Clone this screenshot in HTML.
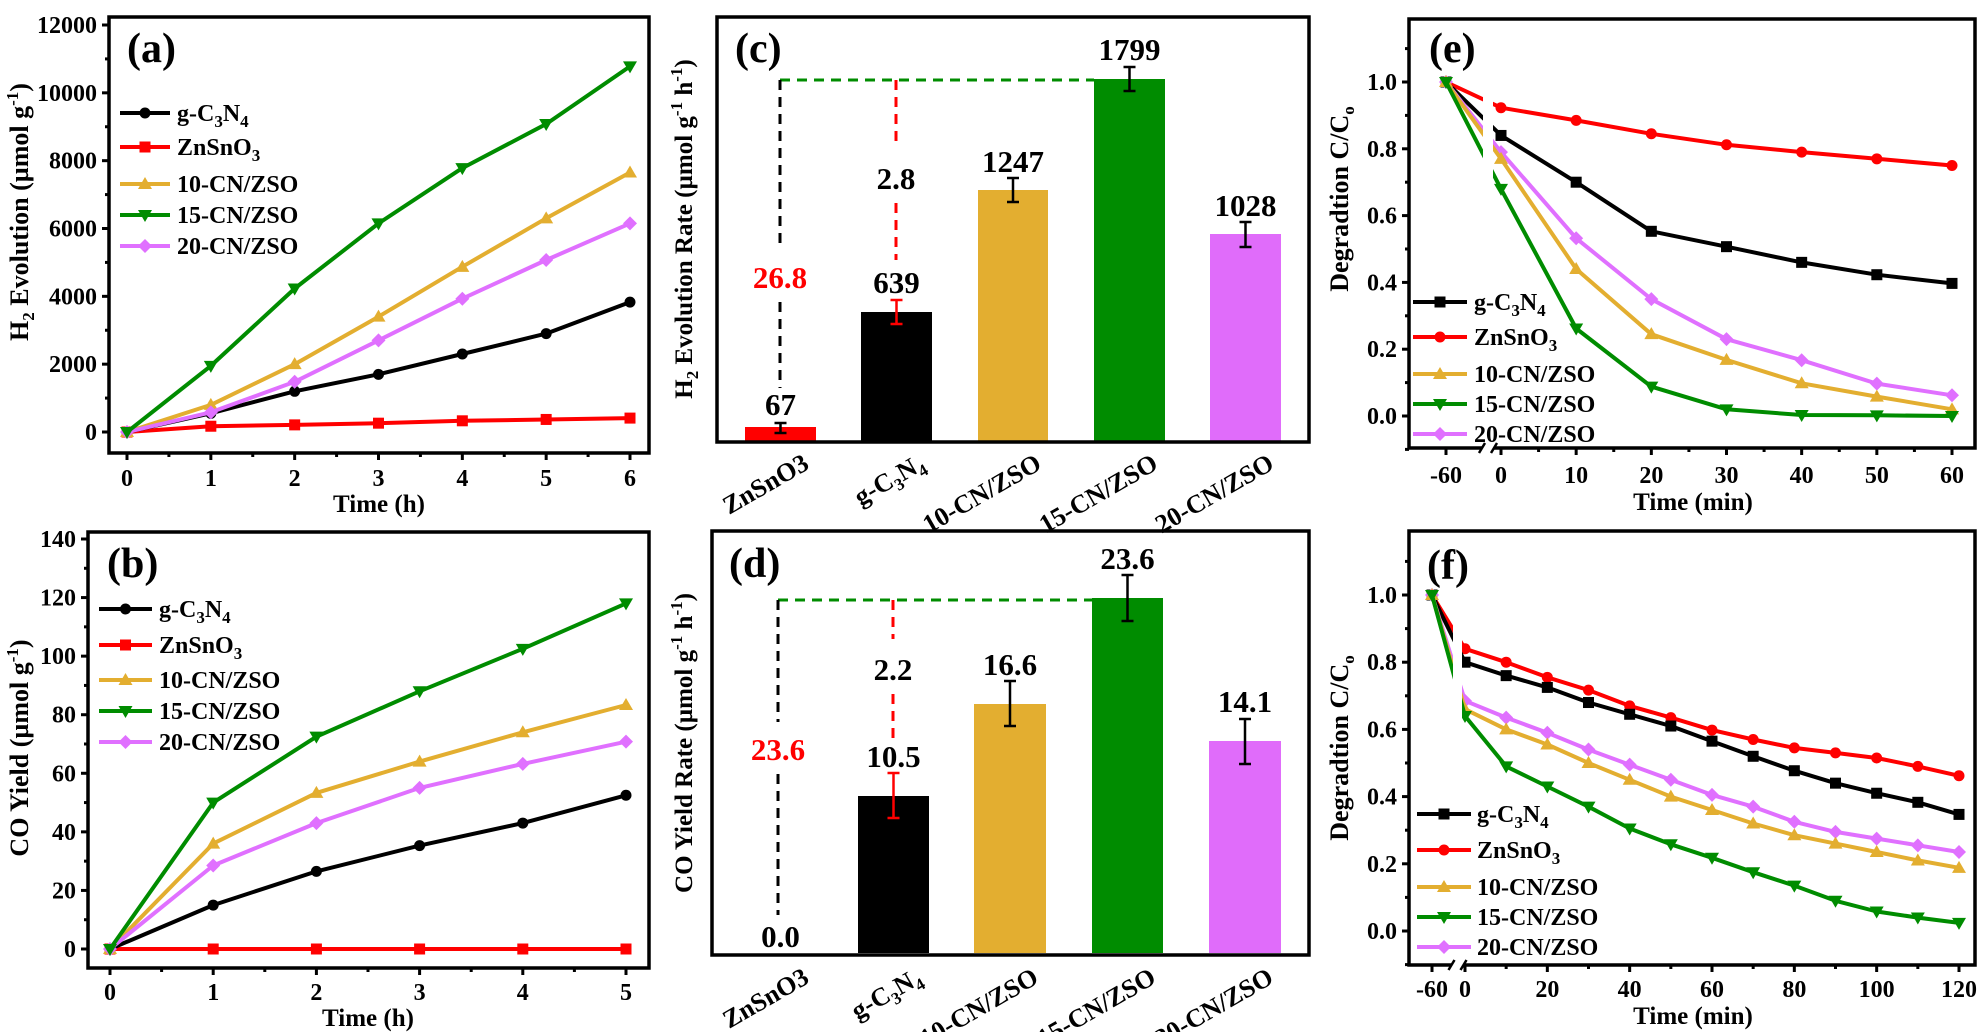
<!DOCTYPE html>
<html><head><meta charset="utf-8">
<style>
html,body{margin:0;padding:0;background:#fff;}
svg{display:block;}
text{font-family:"Liberation Serif",serif;font-weight:bold;fill:#000;}
</style></head>
<body>
<svg id="s" width="1977" height="1032" viewBox="0 0 1977 1032" xmlns="http://www.w3.org/2000/svg"></svg>
<script>
var S=document.getElementById('s');var out='';
var COL={g:'#000000',z:'#ff0000',a:'#e3ae30',b:'#008c00',c:'#e070ff'};
function marker(t,x,y,c){var r=5.5;
 if(t=='o')return '<circle cx="'+x+'" cy="'+y+'" r="'+r+'" fill="'+c+'"/>';
 if(t=='s')return '<rect x="'+(x-r)+'" y="'+(y-r)+'" width="'+(2*r)+'" height="'+(2*r)+'" fill="'+c+'"/>';
 if(t=='^')return '<polygon points="'+x+','+(y-7)+' '+(x+7)+','+(y+5)+' '+(x-7)+','+(y+5)+'" fill="'+c+'"/>';
 if(t=='v')return '<polygon points="'+x+','+(y+7)+' '+(x+7)+','+(y-5)+' '+(x-7)+','+(y-5)+'" fill="'+c+'"/>';
 if(t=='d')return '<polygon points="'+x+','+(y-7)+' '+(x+7)+','+y+' '+x+','+(y+7)+' '+(x-7)+','+y+'" fill="'+c+'"/>';}
function series(xs,ys,c,m){var p=xs.map(function(x,i){return x.toFixed(1)+','+ys[i].toFixed(1)}).join(' ');
 var s='<polyline points="'+p+'" fill="none" stroke="'+c+'" stroke-width="4" stroke-linejoin="round"/>';
 xs.forEach(function(x,i){s+=marker(m,x,ys[i],c)});return s;}
function frame(l,t,r,b){return '<rect x="'+l+'" y="'+t+'" width="'+(r-l)+'" height="'+(b-t)+'" fill="none" stroke="#000" stroke-width="3.5"/>';}
function txt(x,y,s,size,anchor,extra){return '<text x="'+x+'" y="'+y+'" font-size="'+size+'" text-anchor="'+(anchor||'start')+'" '+(extra||'')+'>'+s+'</text>';}
var GCN='g-C<tspan dy="6" font-size="17">3</tspan><tspan dy="-6">N</tspan><tspan dy="6" font-size="17">4</tspan>';
var ZSO='ZnSnO<tspan dy="6" font-size="17">3</tspan>';
function legend(x1,x2,tx,rows,marks){var names=[GCN,ZSO,'10-CN/ZSO','15-CN/ZSO','20-CN/ZSO'];var cols=[COL.g,COL.z,COL.a,COL.b,COL.c];var s='';
 rows.forEach(function(y,i){s+='<line x1="'+x1+'" y1="'+y+'" x2="'+x2+'" y2="'+y+'" stroke="'+cols[i]+'" stroke-width="4"/>'+marker(marks[i],(x1+x2)/2,y,cols[i]);
 s+=txt(tx,y+8,names[i],24);});return s;}
function yticks(l,vals,fy,labs,minor){var s='';vals.forEach(function(v,i){var y=fy(v);s+='<line x1="'+(l-7)+'" y1="'+y+'" x2="'+l+'" y2="'+y+'" stroke="#000" stroke-width="3"/>';s+=txt(l-12,y+8,labs[i],24,'end');});
 (minor||[]).forEach(function(v){var y=fy(v);s+='<line x1="'+(l-4)+'" y1="'+y+'" x2="'+l+'" y2="'+y+'" stroke="#000" stroke-width="3"/>';});return s;}
function xticks(b,vals,fx,labs,minor,ly){var s='';vals.forEach(function(v,i){var x=fx(v);s+='<line x1="'+x+'" y1="'+b+'" x2="'+x+'" y2="'+(b+7)+'" stroke="#000" stroke-width="3"/>';s+=txt(x,ly,labs[i],24,'middle');});
 (minor||[]).forEach(function(v){var x=fx(v);s+='<line x1="'+x+'" y1="'+b+'" x2="'+x+'" y2="'+(b+4)+'" stroke="#000" stroke-width="3"/>';});return s;}
function ytitle(x,y,s,size){return '<text x="0" y="0" font-size="'+(size||25)+'" text-anchor="middle" transform="translate('+x+','+y+') rotate(-90)">'+s+'</text>';}

// ---------- (a)
(function(){var l=109,t=17,r=649,b=453;var fx=function(v){return 127+v*(630-127)/6},fy=function(v){return 432-v*407/12000};
 var xs=[0,1,2,3,4,5,6].map(fx);
 out+=series(xs,[0,170,210,260,330,370,410].map(fy),COL.z,'s');
 out+=series(xs,[0,550,1200,1700,2300,2900,3830].map(fy),COL.g,'o');
 out+=series(xs,[0,800,2000,3400,4870,6300,7650].map(fy),COL.a,'^');
 out+=series(xs,[0,580,1480,2700,3930,5070,6150].map(fy),COL.c,'d');
 out+=series(xs,[0,1950,4230,6150,7780,9080,10780].map(fy),COL.b,'v');
 out+=frame(l,t,r,b);
 out+=yticks(l,[0,2000,4000,6000,8000,10000,12000],fy,['0','2000','4000','6000','8000','10000','12000'],[1000,3000,5000,7000,9000,11000]);
 out+=xticks(b,[0,1,2,3,4,5,6],fx,['0','1','2','3','4','5','6'],[0.5,1.5,2.5,3.5,4.5,5.5],486);
 out+=txt(379,512,'Time (h)',25,'middle');
 out+=ytitle(28,212,'H<tspan dy="6" font-size="17">2</tspan><tspan dy="-6"> Evolution (µmol </tspan>g<tspan dy="-10" font-size="17">-1</tspan><tspan dy="10">)</tspan>',26);
 out+=legend(120,170,177,[113,147,184,215,246],['o','s','^','v','d']);
 out+=txt(127,62,'(a)',42);
})();
// ---------- (b)
(function(){var l=88,t=532,r=649,b=968;var fx=function(v){return 110+v*(626-110)/5},fy=function(v){return 949-v*410/140};
 var xs=[0,1,2,3,4,5].map(fx);
 out+=series(xs,[0,0,0,0,0,0].map(fy),COL.z,'s');
 out+=series(xs,[0,15,26.5,35.3,43,52.5].map(fy),COL.g,'o');
 out+=series(xs,[0,36,53.3,64,74,83.3].map(fy),COL.a,'^');
 out+=series(xs,[0,28.5,43,55,63.2,70.8].map(fy),COL.c,'d');
 out+=series(xs,[0,50,72.5,88,102.5,118].map(fy),COL.b,'v');
 out+=frame(l,t,r,b);
 out+=yticks(l,[0,20,40,60,80,100,120,140],fy,['0','20','40','60','80','100','120','140'],[10,30,50,70,90,110,130]);
 out+=xticks(b,[0,1,2,3,4,5],fx,['0','1','2','3','4','5'],[0.5,1.5,2.5,3.5,4.5],1000);
 out+=txt(368,1026,'Time (h)',25,'middle');
 out+=ytitle(28,748,'CO Yield (µmol g<tspan dy="-10" font-size="17">-1</tspan><tspan dy="10">)</tspan>',26);
 out+=legend(99,152,159,[609,645,680,711,742],['o','s','^','v','d']);
 out+=txt(107,577,'(b)',42);
})();
// ---------- bar panels
function bars(o){var s='';var cols=['#ff0000','#000000','#e3ae30','#008c00','#e06cfa'];
 o.bars.forEach(function(bb,i){if(bb.top!==null)s+='<rect x="'+bb.x1+'" y="'+bb.top+'" width="'+(bb.x2-bb.x1)+'" height="'+(o.base-bb.top)+'" fill="'+cols[i]+'"/>';
  var cx=(bb.x1+bb.x2)/2;
  if(bb.e){var ec=i==1?'#ff0000':'#000';s+='<line x1="'+cx+'" y1="'+bb.e[0]+'" x2="'+cx+'" y2="'+bb.e[1]+'" stroke="'+ec+'" stroke-width="2.5"/><line x1="'+(cx-6)+'" y1="'+bb.e[0]+'" x2="'+(cx+6)+'" y2="'+bb.e[0]+'" stroke="'+ec+'" stroke-width="2.5"/><line x1="'+(cx-6)+'" y1="'+bb.e[1]+'" x2="'+(cx+6)+'" y2="'+bb.e[1]+'" stroke="'+ec+'" stroke-width="2.5"/>';}
  s+=txt(cx,bb.ly,bb.lab,31,'middle');
  var names=['ZnSnO3',GCN,'10-CN/ZSO','15-CN/ZSO','20-CN/ZSO'];
  s+='<text x="0" y="0" font-size="26" text-anchor="end" transform="translate('+(cx+30)+','+o.cy+') rotate(-30)">'+names[i]+'</text>';});
 var d='stroke-dasharray="10,7" stroke-width="3"';
 s+='<line x1="'+o.bx+'" y1="'+o.gy+'" x2="'+o.bars[3].x1+'" y2="'+o.gy+'" stroke="#008c00" '+d+'/>';
 s+='<line x1="'+o.bx+'" y1="'+o.gy+'" x2="'+o.bx+'" y2="'+o.bg[0]+'" stroke="#000" '+d+'/>';
 s+='<line x1="'+o.bx+'" y1="'+o.bg[1]+'" x2="'+o.bx+'" y2="'+o.bend+'" stroke="#000" '+d+'/>';
 s+='<line x1="'+o.rx+'" y1="'+o.gy+'" x2="'+o.rx+'" y2="'+o.rg[0]+'" stroke="#ff0000" '+d+'/>';
 s+='<line x1="'+o.rx+'" y1="'+o.rg[1]+'" x2="'+o.rx+'" y2="'+o.rend+'" stroke="#ff0000" '+d+'/>';
 s+='<text x="'+o.bx+'" y="'+o.redy+'" font-size="31" text-anchor="middle" style="fill:#ff0000">'+o.redl+'</text>';
 s+=txt(o.rx,o.blky,o.blkl,31,'middle');
 s+=frame(o.l,o.t,o.r,o.b);
 return s;}
out+=bars({l:717,t:17,r:1309,b:442,base:441,cy:468,
 bars:[{x1:745,x2:816,top:427,e:[423,433],ly:415,lab:'67'},{x1:861,x2:932,top:312,e:[300,324],ly:293,lab:'639'},{x1:978,x2:1048,top:190,e:[178,202],ly:172,lab:'1247'},{x1:1094,x2:1165,top:79,e:[67,91],ly:60,lab:'1799'},{x1:1210,x2:1281,top:234,e:[222,247],ly:216,lab:'1028'}],
 bx:780,gy:80,bg:[247,302],bend:388,rx:896,rg:[147,203],rend:260,redy:288,redl:'26.8',blky:189,blkl:'2.8'});
out+=ytitle(692,229,'H<tspan dy="6" font-size="17">2</tspan><tspan dy="-6"> Evolution Rate (µmol g</tspan><tspan dy="-10" font-size="17">-1</tspan><tspan dy="10"> h</tspan><tspan dy="-10" font-size="17">-1</tspan><tspan dy="10">)</tspan>',25);
out+=txt(735,62,'(c)',42);
out+=bars({l:712,t:531,r:1309,b:955,base:953,cy:982,
 bars:[{x1:745,x2:816,top:null,e:null,ly:947,lab:'0.0'},{x1:858,x2:929,top:796,e:[773,818],ly:767,lab:'10.5'},{x1:974,x2:1046,top:704,e:[681,726],ly:675,lab:'16.6'},{x1:1092,x2:1163,top:598,e:[575,621],ly:569,lab:'23.6'},{x1:1209,x2:1281,top:741,e:[719,764],ly:712,lab:'14.1'}],
 bx:778,gy:600,bg:[722,774],bend:915,rx:893,rg:[639,694],rend:739,redy:760,redl:'23.6',blky:680,blkl:'2.2'});
out+=ytitle(692,743,'CO Yield Rate (µmol g<tspan dy="-10" font-size="17">-1</tspan><tspan dy="10"> h</tspan><tspan dy="-10" font-size="17">-1</tspan><tspan dy="10">)</tspan>',25);
out+=txt(729,577,'(d)',42);

// ---------- degradation panels
function deg(o){var s='';var fx=o.fx,fy=o.fy;var xs=o.t.map(fx);
 var D=o.data;
 s+=series(xs,D.z.map(fy),COL.z,'o');
 s+=series(xs,D.g.map(fy),COL.g,'s');
 s+=series(xs,D.c.map(fy),COL.c,'d');
 s+=series(xs,D.a.map(fy),COL.a,'^');
 s+=series(xs,D.b.map(fy),COL.b,'v');
 s+='<rect x="'+o.gap[0]+'" y="'+(o.t0+3)+'" width="'+(o.gap[1]-o.gap[0])+'" height="'+(o.b0-o.t0-6)+'" fill="#fff"/>';
 s+=frame(o.l,o.t0,o.r,o.b0);
 s+=yticks(o.l,[0,0.2,0.4,0.6,0.8,1.0],fy,['0.0','0.2','0.4','0.6','0.8','1.0'],[-0.1,0.1,0.3,0.5,0.7,0.9,1.1]);
 s+=xticks(o.b0,o.xt,fx,o.xl,o.xm,o.ly);
 var gx=(o.gap[0]+o.gap[1])/2;
 s+='<rect x="'+(gx-6)+'" y="'+(o.b0-4)+'" width="12" height="8" fill="#fff"/><line x1="'+(gx-9)+'" y1="'+(o.b0+5)+'" x2="'+(gx-3)+'" y2="'+(o.b0-5)+'" stroke="#000" stroke-width="2.5"/><line x1="'+(gx+3)+'" y1="'+(o.b0+5)+'" x2="'+(gx+9)+'" y2="'+(o.b0-5)+'" stroke="#000" stroke-width="2.5"/>';
 s+=txt(1693,o.ly+27,'Time (min)',25,'middle');
 s+=ytitle(1348,o.yc,'Degradtion C/C<tspan dy="6" font-size="17">o</tspan>',26);
 s+=legend(o.lx1,o.lx2,o.ltx,o.rows,['s','o','^','v','d']);
 s+=txt(o.px,o.py,o.pl,42);
 return s;}
out+=deg({l:1409,t0:19,r:1975,b0:448,fx:function(v){return v<0?1446:1501+v*(1952-1501)/60},fy:function(v){return 82-(v-1)*334},
 t:[-60,0,10,20,30,40,50,60],
 data:{g:[1,0.84,0.70,0.553,0.507,0.46,0.423,0.397],z:[1,0.923,0.885,0.845,0.812,0.79,0.77,0.75],a:[1,0.77,0.44,0.245,0.168,0.098,0.058,0.02],b:[1,0.68,0.262,0.088,0.02,0.003,0.002,0.0],c:[1,0.79,0.532,0.35,0.23,0.167,0.097,0.062]},
 gap:[1483,1493],xt:[-60,0,10,20,30,40,50,60],xl:['-60','0','10','20','30','40','50','60'],xm:[5,15,25,35,45,55],ly:483,yc:199,
 lx1:1413,lx2:1467,ltx:1474,rows:[302,337,374,404,434],px:1429,py:62,pl:'(e)'});
out+=deg({l:1409,t0:531,r:1975,b0:965,fx:function(v){return v<0?1432:1465+v*(1959-1465)/120},fy:function(v){return 931-v*336},
 t:[-60,0,10,20,30,40,50,60,70,80,90,100,110,120],
 data:{g:[1,0.80,0.76,0.725,0.68,0.645,0.61,0.565,0.52,0.477,0.44,0.41,0.383,0.347],z:[1,0.84,0.80,0.755,0.717,0.67,0.635,0.598,0.57,0.545,0.53,0.515,0.49,0.462],a:[1,0.66,0.60,0.555,0.50,0.45,0.40,0.36,0.32,0.285,0.26,0.235,0.21,0.188],b:[1,0.64,0.49,0.43,0.37,0.305,0.258,0.218,0.175,0.135,0.09,0.058,0.04,0.024],c:[1,0.685,0.635,0.59,0.54,0.495,0.45,0.405,0.37,0.325,0.295,0.275,0.255,0.235]},
 gap:[1453,1462],xt:[-60,0,20,40,60,80,100,120],xl:['-60','0','20','40','60','80','100','120'],xm:[10,30,50,70,90,110],ly:997,yc:748,
 lx1:1417,lx2:1471,ltx:1477,rows:[814,850,887,917,947],px:1427,py:579,pl:'(f)'});
S.innerHTML=out;
</script>
</body></html>
